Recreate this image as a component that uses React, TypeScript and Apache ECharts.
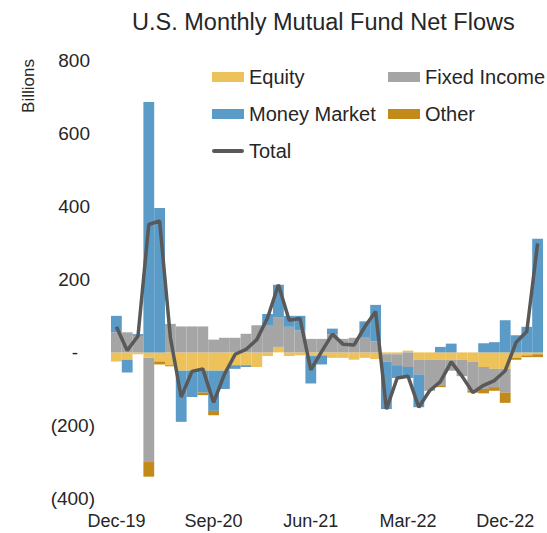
import React, { useEffect, useRef } from "react";
import * as echarts from "echarts";

const categories = [
  "Dec-19", "Jan-20", "Feb-20", "Mar-20", "Apr-20", "May-20", "Jun-20", "Jul-20",
  "Aug-20", "Sep-20", "Oct-20", "Nov-20", "Dec-20", "Jan-21", "Feb-21", "Mar-21",
  "Apr-21", "May-21", "Jun-21", "Jul-21", "Aug-21", "Sep-21", "Oct-21", "Nov-21",
  "Dec-21", "Jan-22", "Feb-22", "Mar-22", "Apr-22", "May-22", "Jun-22", "Jul-22",
  "Aug-22", "Sep-22", "Oct-22", "Nov-22", "Dec-22", "Jan-23", "Feb-23", "Mar-23",
];

const equity = [
  -25, -20, -5, -15, -25, -35, -50, -50, -50, -50, -50, -35, -35, -40, -10, 15,
  -10, -8, -10, -8, -15, -15, -20, -15, -18, -5, -5, 5, -20, -20, -20, -20,
  -20, -25, -40, -45, -45, -15, -8, -5,
];

const fixedIncome = [
  55, 55, 45, -285, 0, 78, 71, 71, 71, 35, 40, 40, 51, 74, 75, 80,
  70, 60, 37, 37, 50, 37, 40, 40, 30, -20, -30, -40, -40, -85, -70, -30,
  -45, -80, -60, -50, -65, 0, 0, 0,
];

const moneyMarket = [
  45, -35, 5, 685, 395, 0, -140, -72, -60, -110, -50, -10, -5, 0, 30, 90,
  30, 40, -75, -25, 15, 0, 0, 45, 100, -130, -35, -30, -90, 0, 15, 24,
  0, 0, 25, 28, 88, 47, 70, 311,
];

const other = [
  0, 0, 0, -40, -8, -3, 0, 0, -7, -12, 0, 0, 0, 0, 0, 0,
  0, 0, 0, 0, 0, 0, 0, 0, 0, 0, 0, 0, 0, 0, -5, 0,
  0, -5, -12, -10, -28, -5, -5, -8,
];

const total = [
  70, 5, 45, 350, 360, 40, -122, -52, -45, -137, -60, -5, 8, 35, 95, 185,
  88, 93, -48, 2, 50, 22, 20, 70, 112, -155, -70, -65, -150, -105, -80, -26,
  -65, -110, -90, -77, -50, 27, 57, 298,
];

const FONT = "'Liberation Sans', Arial, sans-serif";
const TEXT = "#262626";
const LINE_ICON = "path://M2,0H30A2,2 0 0 1 30,4H2A2,2 0 0 1 2,0Z";

export default function App() {
  const ref = useRef<HTMLDivElement>(null);

  useEffect(() => {
    const chart = echarts.init(ref.current!, null, { renderer: "svg" });
    const barBase = {
      type: "bar",
      stack: "flows",
      barCategoryGap: "0%",
      barGap: "0%",
    };
    const legendBase = {
      orient: "vertical",
      top: 67,
      padding: 0,
      itemWidth: 32,
      itemHeight: 10,
      itemGap: 17,
      selectedMode: false,
      symbolKeepAspect: true,
      textStyle: { fontSize: 20, color: TEXT, fontFamily: FONT },
    };
    chart.setOption({
      animation: false,
      backgroundColor: "#ffffff",
      title: {
        text: "U.S. Monthly Mutual Fund Net Flows",
        left: 127,
        top: 5,
        textStyle: { fontSize: 23.5, fontWeight: "normal", color: TEXT, fontFamily: FONT },
      },
      graphic: [
        {
          type: "text",
          x: 28,
          y: 86,
          rotation: Math.PI / 2,
          style: {
            text: "Billions",
            fontSize: 17,
            fontFamily: FONT,
            fill: TEXT,
            textAlign: "center",
            textVerticalAlign: "middle",
          },
        },
      ],
      legend: [
        {
          ...legendBase,
          left: 212,
          data: [
            { name: "Equity", icon: "rect" },
            { name: "Money Market", icon: "rect" },
            { name: "Total", icon: LINE_ICON, itemStyle: { color: "#595959" } },
          ],
        },
        {
          ...legendBase,
          left: 388,
          data: [
            { name: "Fixed Income", icon: "rect" },
            { name: "Other", icon: "rect" },
          ],
        },
      ],
      grid: { left: 111, right: 4, top: 60, bottom: 34.4, containLabel: false },
      xAxis: {
        type: "category",
        data: categories,
        axisLine: { show: false, onZero: false },
        axisTick: { show: false },
        splitLine: { show: false },
        axisLabel: {
          interval: 8,
          margin: 13,
          fontSize: 18,
          color: TEXT,
          fontFamily: FONT,
        },
      },
      yAxis: {
        type: "value",
        min: -400,
        max: 800,
        interval: 200,
        axisLine: { show: false },
        axisTick: { show: false },
        splitLine: { show: false },
        axisLabel: {
          margin: 16,
          fontSize: 19,
          color: TEXT,
          fontFamily: FONT,
          formatter: (v: number) => {
            if (v > 0) return `{p|${v}}`;
            if (v === 0) return "{z|-}";
            return `(${-v})`;
          },
          rich: {
            p: { fontSize: 19, color: TEXT, fontFamily: FONT, padding: [0, 5, 0, 0] },
            z: { fontSize: 19, color: TEXT, fontFamily: FONT, padding: [0, 17, 0, 0] },
          },
        },
      },
      series: [
        { ...barBase, name: "Equity", data: equity, itemStyle: { color: "#EEC25A" } },
        { ...barBase, name: "Fixed Income", data: fixedIncome, itemStyle: { color: "#A5A5A5" } },
        { ...barBase, name: "Money Market", data: moneyMarket, itemStyle: { color: "#5B9BC8" } },
        { ...barBase, name: "Other", data: other, itemStyle: { color: "#C28A18" } },
        {
          type: "line",
          name: "Total",
          data: total,
          symbol: "none",
          z: 5,
          lineStyle: { color: "#595959", width: 3.5 },
          itemStyle: { color: "#595959" },
        },
      ],
    });
    return () => chart.dispose();
  }, []);

  return (
    <div
      ref={ref}
      style={{ position: "absolute", left: 0, top: 0, width: 547, height: 533 }}
    />
  );
}
